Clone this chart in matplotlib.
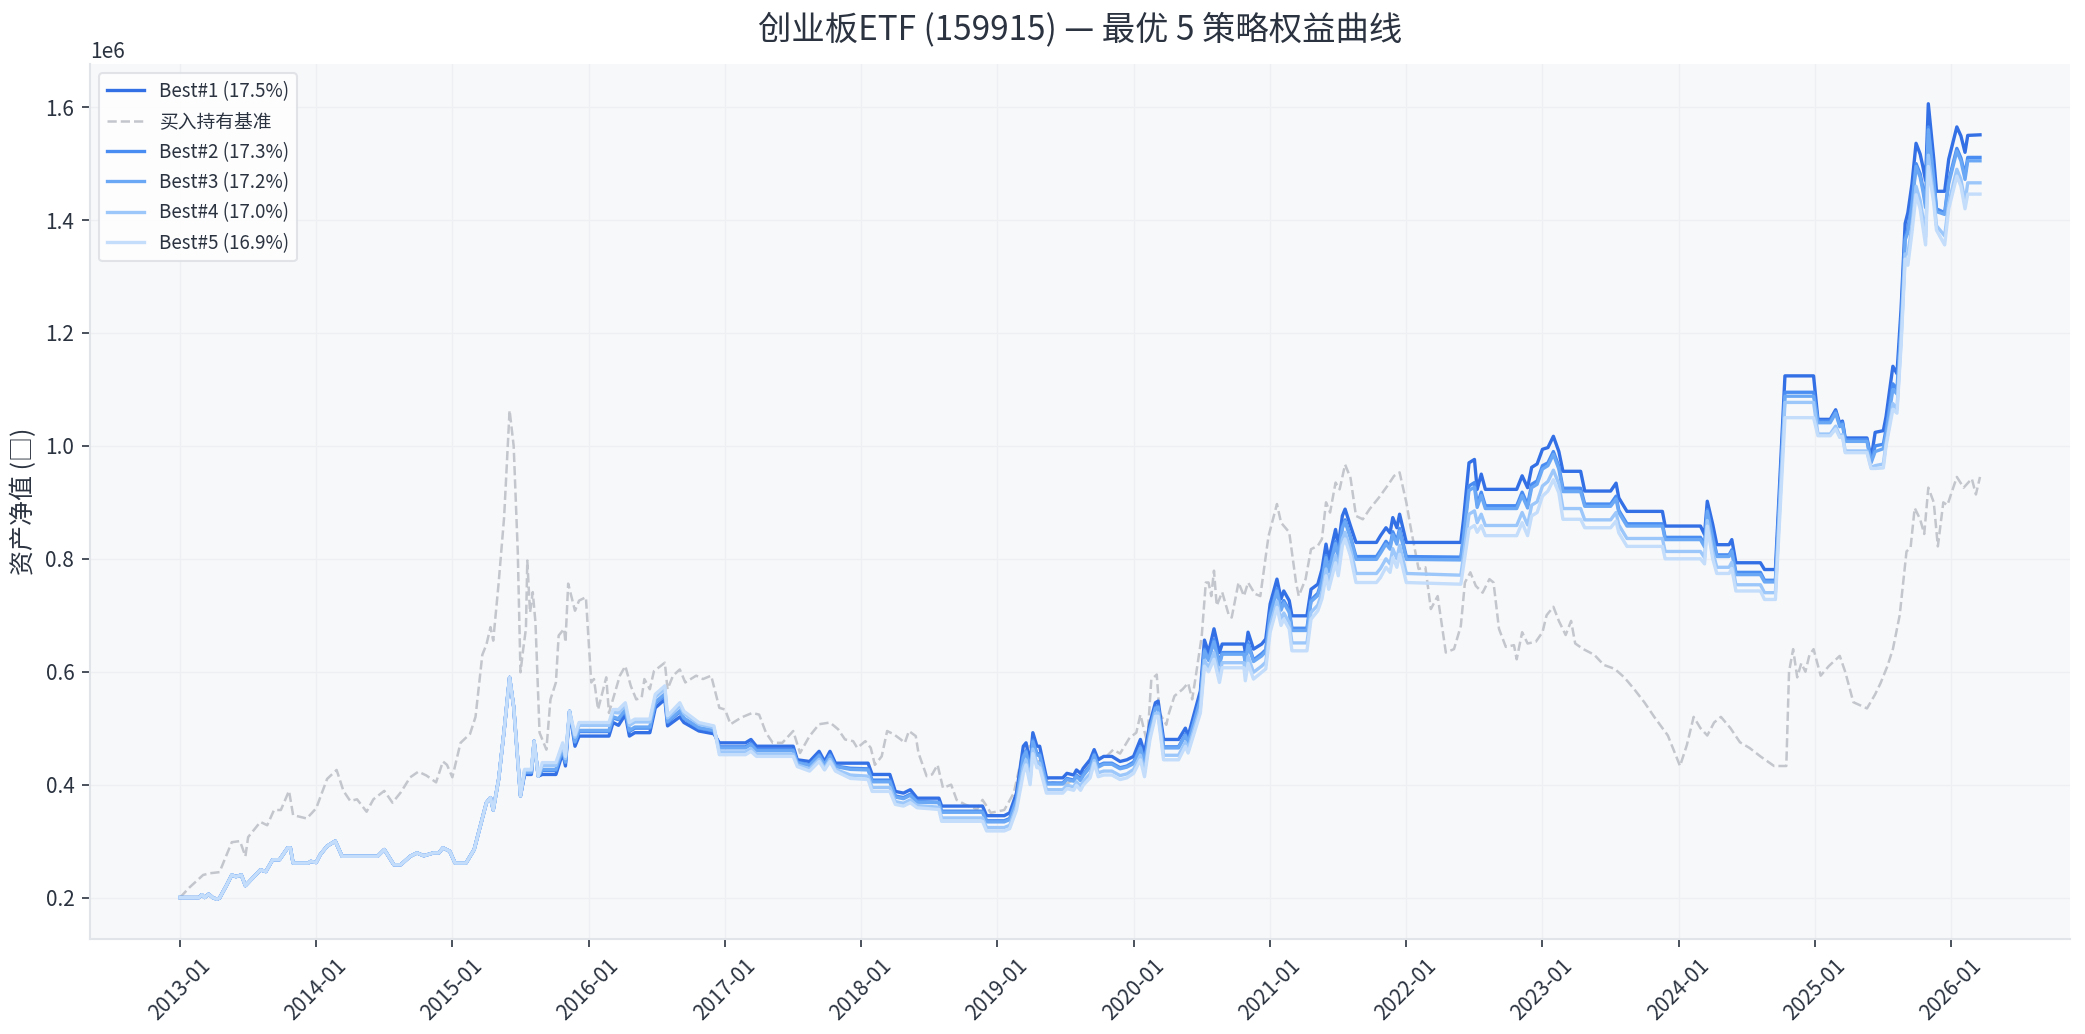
import matplotlib
matplotlib.use("Agg")
import matplotlib.pyplot as plt
import matplotlib.dates as mdates
import pandas as pd
import numpy as np

plt.rcParams['font.family'] = ['Noto Sans CJK SC', 'DejaVu Sans']
plt.rcParams['axes.unicode_minus'] = False

# ---------------- data (decimal years, values in yuan / 1e6) ----------------
t_early = [2013.00, 2013.14, 2013.16, 2013.18, 2013.21, 2013.24, 2013.27, 2013.29, 2013.34, 2013.38,
           2013.41, 2013.45, 2013.48, 2013.59, 2013.63, 2013.68, 2013.73, 2013.79, 2013.81, 2013.83,
           2013.94, 2013.96, 2014.00, 2014.03, 2014.08, 2014.14, 2014.19, 2014.45, 2014.50, 2014.57,
           2014.62, 2014.69, 2014.74, 2014.79, 2014.86, 2014.90, 2014.93, 2014.98, 2015.02, 2015.10,
           2015.16, 2015.21, 2015.25, 2015.28, 2015.30, 2015.34, 2015.38, 2015.42, 2015.45, 2015.50]
v_early = [0.200, 0.200, 0.205, 0.200, 0.206, 0.200, 0.197, 0.199, 0.221, 0.240,
           0.237, 0.240, 0.221, 0.249, 0.246, 0.267, 0.267, 0.288, 0.288, 0.261,
           0.261, 0.264, 0.262, 0.276, 0.291, 0.300, 0.273, 0.273, 0.285, 0.258,
           0.258, 0.273, 0.279, 0.274, 0.279, 0.279, 0.288, 0.282, 0.261, 0.261,
           0.285, 0.331, 0.368, 0.377, 0.355, 0.410, 0.496, 0.590, 0.538, 0.380]

t_late = [2015.53, 2015.58, 2015.60, 2015.63, 2015.66, 2015.76, 2015.81, 2015.83, 2015.86, 2015.90,
          2015.93, 2016.15, 2016.18, 2016.22, 2016.27, 2016.30, 2016.34, 2016.45, 2016.49, 2016.56,
          2016.58, 2016.67, 2016.70, 2016.81, 2016.92, 2016.96, 2017.15, 2017.19, 2017.23, 2017.50,
          2017.53, 2017.62, 2017.69, 2017.73, 2017.77, 2017.81, 2017.92, 2018.05, 2018.08, 2018.21,
          2018.25, 2018.31, 2018.36, 2018.41, 2018.57, 2018.59, 2018.89, 2018.92, 2019.05, 2019.09,
          2019.14, 2019.19, 2019.21, 2019.24, 2019.26, 2019.29, 2019.31, 2019.36, 2019.48, 2019.51,
          2019.56, 2019.58, 2019.61, 2019.63, 2019.68, 2019.71, 2019.74, 2019.78, 2019.84, 2019.90,
          2019.95, 2020.00, 2020.05, 2020.08, 2020.12, 2020.16, 2020.18, 2020.22, 2020.33, 2020.38,
          2020.40, 2020.49, 2020.52, 2020.55, 2020.59, 2020.63, 2020.65, 2020.81, 2020.82, 2020.84,
          2020.88, 2020.94, 2020.97, 2021.00, 2021.05, 2021.08, 2021.10, 2021.14, 2021.16, 2021.27,
          2021.30, 2021.35, 2021.38, 2021.41, 2021.43, 2021.48, 2021.50, 2021.53, 2021.55, 2021.59,
          2021.63, 2021.78, 2021.81, 2021.85, 2021.88, 2021.90, 2021.93, 2021.95, 2022.00, 2022.40,
          2022.42, 2022.46, 2022.50, 2022.52, 2022.55, 2022.58, 2022.81, 2022.85, 2022.89, 2022.92,
          2022.96, 2023.00, 2023.04, 2023.08, 2023.12, 2023.15, 2023.28, 2023.31, 2023.50, 2023.54,
          2023.56, 2023.62, 2023.88, 2023.90, 2024.16, 2024.19, 2024.21, 2024.25, 2024.28, 2024.37,
          2024.39, 2024.42, 2024.60, 2024.63, 2024.71, 2024.78, 2024.99, 2025.02, 2025.11, 2025.15,
          2025.18, 2025.20, 2025.22, 2025.38, 2025.41, 2025.44, 2025.50, 2025.52, 2025.57, 2025.60,
          2025.63, 2025.66, 2025.68, 2025.71, 2025.74, 2025.77, 2025.79, 2025.81, 2025.83, 2025.87,
          2025.89, 2025.95, 2025.98, 2026.04, 2026.07, 2026.10, 2026.12, 2026.21]

best1_late = [0.418, 0.418, 0.477, 0.415, 0.418, 0.418, 0.456, 0.433, 0.530, 0.468,
              0.486, 0.486, 0.510, 0.505, 0.524, 0.486, 0.492, 0.492, 0.536, 0.551,
              0.504, 0.520, 0.510, 0.495, 0.490, 0.474, 0.474, 0.480, 0.468, 0.468,
              0.444, 0.441, 0.459, 0.441, 0.459, 0.438, 0.438, 0.438, 0.418, 0.418,
              0.388, 0.385, 0.391, 0.376, 0.376, 0.362, 0.362, 0.345, 0.345, 0.350,
              0.385, 0.468, 0.474, 0.438, 0.492, 0.468, 0.468, 0.412, 0.412, 0.420,
              0.417, 0.426, 0.420, 0.429, 0.444, 0.462, 0.444, 0.450, 0.450, 0.441,
              0.444, 0.450, 0.480, 0.456, 0.509, 0.545, 0.548, 0.480, 0.480, 0.500,
              0.486, 0.566, 0.656, 0.634, 0.676, 0.634, 0.649, 0.649, 0.634, 0.670,
              0.640, 0.649, 0.658, 0.720, 0.764, 0.729, 0.743, 0.726, 0.699, 0.699,
              0.746, 0.755, 0.781, 0.826, 0.799, 0.852, 0.823, 0.876, 0.888, 0.858,
              0.829, 0.829, 0.841, 0.855, 0.846, 0.873, 0.855, 0.879, 0.829, 0.829,
              0.870, 0.970, 0.976, 0.923, 0.950, 0.923, 0.923, 0.947, 0.926, 0.962,
              0.968, 0.994, 0.997, 1.017, 0.990, 0.955, 0.955, 0.920, 0.920, 0.934,
              0.908, 0.884, 0.884, 0.858, 0.858, 0.843, 0.902, 0.861, 0.825, 0.825,
              0.834, 0.793, 0.793, 0.781, 0.781, 1.124, 1.124, 1.047, 1.047, 1.064,
              1.040, 1.044, 1.014, 1.014, 0.977, 1.024, 1.027, 1.052, 1.141, 1.128,
              1.242, 1.394, 1.413, 1.464, 1.536, 1.517, 1.495, 1.470, 1.606, 1.508,
              1.451, 1.451, 1.508, 1.565, 1.549, 1.520, 1.550, 1.551]

best2_late = [0.421, 0.421, 0.477, 0.415, 0.425, 0.425, 0.462, 0.439, 0.530, 0.475,
              0.494, 0.494, 0.518, 0.515, 0.531, 0.494, 0.500, 0.500, 0.544, 0.559,
              0.510, 0.529, 0.517, 0.500, 0.495, 0.467, 0.467, 0.473, 0.462, 0.462,
              0.440, 0.435, 0.453, 0.436, 0.453, 0.433, 0.429, 0.428, 0.408, 0.408,
              0.380, 0.377, 0.383, 0.370, 0.369, 0.353, 0.353, 0.336, 0.336, 0.340,
              0.375, 0.451, 0.460, 0.425, 0.479, 0.455, 0.455, 0.403, 0.403, 0.411,
              0.408, 0.417, 0.410, 0.419, 0.433, 0.454, 0.434, 0.438, 0.438, 0.430,
              0.433, 0.440, 0.467, 0.441, 0.499, 0.537, 0.539, 0.467, 0.467, 0.489,
              0.476, 0.552, 0.640, 0.622, 0.657, 0.615, 0.634, 0.634, 0.617, 0.651,
              0.621, 0.632, 0.639, 0.703, 0.747, 0.713, 0.726, 0.709, 0.677, 0.677,
              0.727, 0.739, 0.763, 0.806, 0.780, 0.831, 0.804, 0.857, 0.869, 0.839,
              0.804, 0.804, 0.815, 0.831, 0.822, 0.848, 0.831, 0.854, 0.804, 0.803,
              0.841, 0.929, 0.935, 0.896, 0.918, 0.894, 0.894, 0.918, 0.896, 0.932,
              0.938, 0.965, 0.970, 0.990, 0.964, 0.925, 0.925, 0.897, 0.897, 0.911,
              0.886, 0.862, 0.862, 0.838, 0.838, 0.825, 0.887, 0.840, 0.807, 0.807,
              0.816, 0.776, 0.776, 0.762, 0.762, 1.095, 1.095, 1.044, 1.044, 1.061,
              1.037, 1.041, 1.011, 1.011, 0.972, 1.000, 1.003, 1.030, 1.110, 1.100,
              1.215, 1.370, 1.385, 1.430, 1.500, 1.482, 1.458, 1.430, 1.565, 1.475,
              1.420, 1.413, 1.470, 1.527, 1.510, 1.480, 1.511, 1.511]

best3_late = [0.422, 0.422, 0.477, 0.415, 0.427, 0.427, 0.464, 0.440, 0.530, 0.476,
              0.496, 0.496, 0.520, 0.517, 0.533, 0.496, 0.502, 0.502, 0.546, 0.561,
              0.512, 0.531, 0.518, 0.501, 0.496, 0.465, 0.465, 0.471, 0.460, 0.460,
              0.439, 0.434, 0.451, 0.435, 0.451, 0.432, 0.427, 0.426, 0.405, 0.405,
              0.378, 0.375, 0.381, 0.369, 0.368, 0.351, 0.351, 0.334, 0.334, 0.338,
              0.372, 0.448, 0.458, 0.422, 0.476, 0.452, 0.452, 0.401, 0.401, 0.409,
              0.406, 0.415, 0.407, 0.416, 0.431, 0.452, 0.431, 0.436, 0.436, 0.428,
              0.431, 0.437, 0.465, 0.438, 0.497, 0.535, 0.537, 0.465, 0.465, 0.487,
              0.473, 0.550, 0.637, 0.620, 0.653, 0.612, 0.631, 0.631, 0.613, 0.647,
              0.618, 0.628, 0.636, 0.699, 0.743, 0.709, 0.722, 0.705, 0.673, 0.673,
              0.724, 0.735, 0.759, 0.802, 0.777, 0.827, 0.801, 0.854, 0.866, 0.836,
              0.799, 0.799, 0.810, 0.826, 0.817, 0.843, 0.826, 0.849, 0.799, 0.798,
              0.836, 0.921, 0.927, 0.891, 0.912, 0.889, 0.889, 0.912, 0.890, 0.926,
              0.932, 0.959, 0.965, 0.985, 0.959, 0.919, 0.919, 0.893, 0.893, 0.906,
              0.882, 0.858, 0.858, 0.834, 0.834, 0.821, 0.884, 0.835, 0.804, 0.804,
              0.813, 0.772, 0.772, 0.759, 0.759, 1.088, 1.088, 1.041, 1.041, 1.058,
              1.034, 1.038, 1.008, 1.008, 0.970, 0.990, 0.995, 1.022, 1.100, 1.092,
              1.208, 1.365, 1.378, 1.425, 1.495, 1.476, 1.452, 1.422, 1.560, 1.470,
              1.415, 1.410, 1.465, 1.522, 1.505, 1.472, 1.505, 1.505]

best4_late = [0.425, 0.425, 0.477, 0.415, 0.434, 0.434, 0.470, 0.446, 0.530, 0.484,
              0.505, 0.505, 0.528, 0.527, 0.540, 0.505, 0.511, 0.511, 0.555, 0.570,
              0.518, 0.540, 0.526, 0.507, 0.501, 0.458, 0.458, 0.464, 0.454, 0.454,
              0.435, 0.428, 0.445, 0.429, 0.445, 0.427, 0.417, 0.415, 0.395, 0.395,
              0.370, 0.367, 0.373, 0.363, 0.360, 0.341, 0.341, 0.324, 0.324, 0.328,
              0.362, 0.431, 0.444, 0.408, 0.463, 0.438, 0.438, 0.391, 0.391, 0.399,
              0.396, 0.405, 0.397, 0.406, 0.419, 0.443, 0.421, 0.424, 0.424, 0.416,
              0.419, 0.427, 0.452, 0.423, 0.486, 0.526, 0.527, 0.452, 0.452, 0.475,
              0.463, 0.536, 0.620, 0.607, 0.634, 0.593, 0.616, 0.616, 0.595, 0.627,
              0.599, 0.610, 0.617, 0.681, 0.725, 0.692, 0.704, 0.687, 0.651, 0.651,
              0.705, 0.718, 0.740, 0.782, 0.758, 0.806, 0.782, 0.835, 0.847, 0.817,
              0.774, 0.774, 0.783, 0.800, 0.791, 0.818, 0.800, 0.824, 0.774, 0.771,
              0.806, 0.879, 0.885, 0.864, 0.879, 0.859, 0.859, 0.882, 0.860, 0.895,
              0.901, 0.929, 0.937, 0.957, 0.933, 0.889, 0.889, 0.869, 0.869, 0.882,
              0.860, 0.836, 0.836, 0.813, 0.813, 0.802, 0.868, 0.813, 0.785, 0.785,
              0.794, 0.754, 0.754, 0.740, 0.740, 1.077, 1.077, 1.021, 1.021, 1.035,
              1.018, 1.020, 0.991, 0.991, 0.962, 0.965, 0.968, 1.005, 1.075, 1.065,
              1.188, 1.340, 1.340, 1.390, 1.460, 1.435, 1.405, 1.370, 1.515, 1.440,
              1.390, 1.372, 1.430, 1.490, 1.472, 1.432, 1.466, 1.466]

best5_late = [0.427, 0.427, 0.477, 0.415, 0.439, 0.439, 0.474, 0.450, 0.530, 0.488,
              0.510, 0.510, 0.533, 0.533, 0.545, 0.510, 0.516, 0.516, 0.560, 0.575,
              0.522, 0.545, 0.530, 0.510, 0.504, 0.453, 0.453, 0.459, 0.450, 0.450,
              0.432, 0.424, 0.441, 0.426, 0.441, 0.424, 0.411, 0.409, 0.388, 0.388,
              0.365, 0.362, 0.368, 0.359, 0.356, 0.335, 0.335, 0.318, 0.318, 0.322,
              0.355, 0.420, 0.435, 0.400, 0.455, 0.430, 0.430, 0.385, 0.385, 0.393,
              0.390, 0.399, 0.390, 0.399, 0.412, 0.438, 0.414, 0.417, 0.417, 0.409,
              0.412, 0.420, 0.444, 0.414, 0.480, 0.521, 0.521, 0.444, 0.444, 0.468,
              0.456, 0.527, 0.610, 0.600, 0.622, 0.581, 0.607, 0.607, 0.584, 0.615,
              0.587, 0.599, 0.605, 0.670, 0.714, 0.682, 0.693, 0.676, 0.637, 0.637,
              0.693, 0.708, 0.729, 0.770, 0.746, 0.793, 0.770, 0.823, 0.835, 0.805,
              0.758, 0.758, 0.767, 0.785, 0.776, 0.802, 0.785, 0.808, 0.758, 0.755,
              0.788, 0.853, 0.859, 0.847, 0.859, 0.841, 0.841, 0.864, 0.841, 0.876,
              0.882, 0.911, 0.920, 0.940, 0.917, 0.870, 0.870, 0.855, 0.855, 0.867,
              0.846, 0.822, 0.822, 0.800, 0.800, 0.791, 0.858, 0.800, 0.774, 0.774,
              0.783, 0.743, 0.743, 0.728, 0.728, 1.050, 1.050, 1.018, 1.018, 1.030,
              1.015, 1.017, 0.988, 0.988, 0.960, 0.960, 0.961, 1.000, 1.065, 1.058,
              1.178, 1.331, 1.320, 1.378, 1.445, 1.420, 1.388, 1.356, 1.495, 1.430,
              1.382, 1.356, 1.420, 1.478, 1.460, 1.420, 1.446, 1.446]

t_bench = [2013.00, 2013.07, 2013.17, 2013.22, 2013.29, 2013.38, 2013.44, 2013.48, 2013.50, 2013.59,
           2013.64, 2013.69, 2013.74, 2013.80, 2013.83, 2013.88, 2013.93, 2014.00, 2014.08, 2014.15,
           2014.20, 2014.25, 2014.30, 2014.37, 2014.42, 2014.50, 2014.56, 2014.62, 2014.69, 2014.75,
           2014.81, 2014.88, 2014.93, 2014.96, 2015.00, 2015.06, 2015.13, 2015.17, 2015.22, 2015.25,
           2015.28, 2015.30, 2015.34, 2015.38, 2015.42, 2015.45, 2015.48, 2015.50, 2015.52, 2015.54,
           2015.55, 2015.57, 2015.59, 2015.61, 2015.64, 2015.69, 2015.72, 2015.76, 2015.78, 2015.82,
           2015.83, 2015.85, 2015.90, 2015.93, 2015.98, 2016.02, 2016.04, 2016.07, 2016.13, 2016.15,
           2016.23, 2016.27, 2016.31, 2016.35, 2016.39, 2016.41, 2016.45, 2016.48, 2016.56, 2016.58,
           2016.62, 2016.67, 2016.71, 2016.79, 2016.84, 2016.90, 2016.96, 2017.00, 2017.04, 2017.12,
           2017.20, 2017.25, 2017.30, 2017.35, 2017.42, 2017.50, 2017.55, 2017.62, 2017.69, 2017.77,
           2017.83, 2017.88, 2017.94, 2017.97, 2018.03, 2018.07, 2018.10, 2018.15, 2018.19, 2018.24,
           2018.29, 2018.32, 2018.35, 2018.40, 2018.42, 2018.48, 2018.52, 2018.56, 2018.60, 2018.66,
           2018.70, 2018.76, 2018.85, 2018.89, 2018.92, 2018.95, 2019.05, 2019.12, 2019.18, 2019.24,
           2019.30, 2019.38, 2019.50, 2019.60, 2019.70, 2019.80, 2019.85, 2019.90, 2019.97, 2020.02,
           2020.05, 2020.10, 2020.13, 2020.17, 2020.19, 2020.24, 2020.26, 2020.30, 2020.36, 2020.40,
           2020.43, 2020.46, 2020.50, 2020.53, 2020.55, 2020.57, 2020.59, 2020.61, 2020.65, 2020.70,
           2020.72, 2020.77, 2020.81, 2020.84, 2020.89, 2020.93, 2020.99, 2021.05, 2021.08, 2021.14,
           2021.19, 2021.21, 2021.26, 2021.30, 2021.35, 2021.38, 2021.41, 2021.44, 2021.48, 2021.51,
           2021.55, 2021.59, 2021.63, 2021.68, 2021.73, 2021.80, 2021.86, 2021.91, 2021.95, 2022.00,
           2022.03, 2022.09, 2022.14, 2022.18, 2022.23, 2022.29, 2022.35, 2022.40, 2022.43, 2022.47,
           2022.51, 2022.56, 2022.61, 2022.64, 2022.68, 2022.73, 2022.79, 2022.81, 2022.85, 2022.89,
           2022.95, 2023.00, 2023.03, 2023.08, 2023.12, 2023.17, 2023.21, 2023.24, 2023.30, 2023.38,
           2023.45, 2023.53, 2023.60, 2023.67, 2023.75, 2023.82, 2023.92, 2024.01, 2024.06, 2024.11,
           2024.16, 2024.21, 2024.26, 2024.31, 2024.38, 2024.45, 2024.52, 2024.60, 2024.70, 2024.79,
           2024.81, 2024.84, 2024.87, 2024.90, 2024.93, 2024.96, 2024.99, 2025.04, 2025.10, 2025.18,
           2025.22, 2025.28, 2025.38, 2025.44, 2025.48, 2025.53, 2025.57, 2025.62, 2025.67, 2025.70,
           2025.73, 2025.77, 2025.80, 2025.83, 2025.87, 2025.90, 2025.94, 2025.97, 2026.04, 2026.09,
           2026.15, 2026.18, 2026.21]
v_bench = [0.200, 0.218, 0.240, 0.243, 0.245, 0.298, 0.300, 0.273, 0.307, 0.334,
           0.328, 0.355, 0.355, 0.389, 0.346, 0.343, 0.340, 0.358, 0.410, 0.426,
           0.389, 0.371, 0.374, 0.352, 0.374, 0.389, 0.368, 0.386, 0.413, 0.423,
           0.416, 0.404, 0.441, 0.435, 0.413, 0.474, 0.490, 0.520, 0.630, 0.648,
           0.679, 0.655, 0.758, 0.874, 1.063, 1.000, 0.813, 0.599, 0.640, 0.676,
           0.797, 0.705, 0.741, 0.687, 0.492, 0.462, 0.551, 0.581, 0.664, 0.676,
           0.652, 0.756, 0.708, 0.726, 0.732, 0.581, 0.587, 0.533, 0.590, 0.527,
           0.593, 0.610, 0.575, 0.551, 0.554, 0.587, 0.569, 0.601, 0.616, 0.569,
           0.593, 0.604, 0.581, 0.593, 0.587, 0.593, 0.536, 0.533, 0.507, 0.519,
           0.527, 0.524, 0.492, 0.474, 0.474, 0.495, 0.456, 0.486, 0.507, 0.510,
           0.498, 0.480, 0.477, 0.465, 0.477, 0.465, 0.435, 0.450, 0.495, 0.489,
           0.480, 0.474, 0.495, 0.486, 0.456, 0.415, 0.418, 0.435, 0.394, 0.400,
           0.373, 0.365, 0.356, 0.373, 0.362, 0.350, 0.355, 0.385, 0.450, 0.470,
           0.445, 0.405, 0.400, 0.415, 0.445, 0.450, 0.462, 0.455, 0.483, 0.492,
           0.524, 0.474, 0.586, 0.595, 0.527, 0.506, 0.527, 0.557, 0.569, 0.580,
           0.551, 0.598, 0.663, 0.758, 0.758, 0.734, 0.779, 0.717, 0.741, 0.699,
           0.696, 0.758, 0.734, 0.758, 0.738, 0.734, 0.840, 0.897, 0.864, 0.847,
           0.758, 0.734, 0.764, 0.817, 0.823, 0.835, 0.900, 0.882, 0.935, 0.923,
           0.967, 0.943, 0.876, 0.870, 0.888, 0.909, 0.929, 0.947, 0.953, 0.900,
           0.858, 0.782, 0.785, 0.711, 0.734, 0.634, 0.640, 0.681, 0.758, 0.776,
           0.752, 0.740, 0.764, 0.758, 0.676, 0.644, 0.647, 0.622, 0.670, 0.650,
           0.653, 0.670, 0.700, 0.715, 0.690, 0.665, 0.690, 0.650, 0.640, 0.630,
           0.612, 0.605, 0.590, 0.570, 0.545, 0.520, 0.487, 0.433, 0.470, 0.520,
           0.500, 0.487, 0.510, 0.520, 0.500, 0.475, 0.465, 0.450, 0.433, 0.433,
           0.600, 0.640, 0.590, 0.615, 0.600, 0.630, 0.640, 0.593, 0.610, 0.628,
           0.600, 0.546, 0.535, 0.560, 0.580, 0.610, 0.640, 0.700, 0.813, 0.820,
           0.890, 0.870, 0.844, 0.926, 0.900, 0.822, 0.900, 0.895, 0.945, 0.926,
           0.942, 0.914, 0.945]

labels = ["Best#1 (17.5%)", "Best#2 (17.3%)", "Best#3 (17.2%)", "Best#4 (17.0%)", "Best#5 (16.9%)"]
bench_label = "买入持有基准"
title = "创业板ETF (159915) — 最优 5 策略权益曲线"
ylabel = "资产净值 (□)"


def to_dates(years):
    years = np.asarray(years, dtype=float)
    base = pd.to_datetime((np.floor(years)).astype(int).astype(str) + "-01-01")
    return base + pd.to_timedelta((years - np.floor(years)) * 365.25, unit="D")


t_strat = to_dates(t_early + t_late)
series = [v_early + best1_late, v_early + best2_late, v_early + best3_late,
          v_early + best4_late, v_early + best5_late]
t_b = to_dates(t_bench)

colors = ['#3370e6', '#4a8df2', '#6aa8f5', '#9cc7fa', '#c3ddfb']

fig = plt.figure(figsize=(2085 / 150, 1034 / 150), dpi=150)
ax = fig.add_axes([90 / 2085, 1 - 939 / 1034, (2070 - 90) / 2085, (939 - 64) / 1034])
ax.set_facecolor('#f7f8fa')

text_color = '#2b3340'
ax.plot(t_strat, np.array(series[0]) * 1e6, color=colors[0], lw=1.6, label=labels[0], zorder=3)
ax.plot(t_b, np.array(v_bench) * 1e6, color='#c3c6cc', lw=1.2, ls='--', label=bench_label, zorder=2)
for i in range(1, 5):
    ax.plot(t_strat, np.array(series[i]) * 1e6, color=colors[i], lw=1.6, label=labels[i], zorder=3)

ax.xaxis.set_major_locator(mdates.YearLocator())
ax.xaxis.set_major_formatter(mdates.DateFormatter('%Y-%m'))
for lab in ax.get_xticklabels():
    lab.set_rotation(45)
    lab.set_ha('center')

ax.grid(True, color='#edeff2', lw=0.6)
ax.set_axisbelow(True)
for s in ['top', 'right']:
    ax.spines[s].set_visible(False)
for s in ['left', 'bottom']:
    ax.spines[s].set_color('#e1e4e8')
    ax.spines[s].set_linewidth(1.0)
ax.tick_params(axis='both', colors=text_color, labelsize=10, length=4)
ax.yaxis.get_offset_text().set_color(text_color)
ax.yaxis.get_offset_text().set_fontsize(10)

ax.set_ylabel(ylabel, fontsize=12, color=text_color)
ax.set_title(title, fontsize=16, color=text_color, pad=12)

leg = ax.legend(loc='upper left', fontsize=9, frameon=True, fancybox=True)
leg.get_frame().set_edgecolor('#dcdfe4')
leg.get_frame().set_facecolor('white')
leg.get_frame().set_alpha(0.85)
for txt in leg.get_texts():
    txt.set_color(text_color)

fig.savefig('out.png', dpi=150, facecolor='white')
